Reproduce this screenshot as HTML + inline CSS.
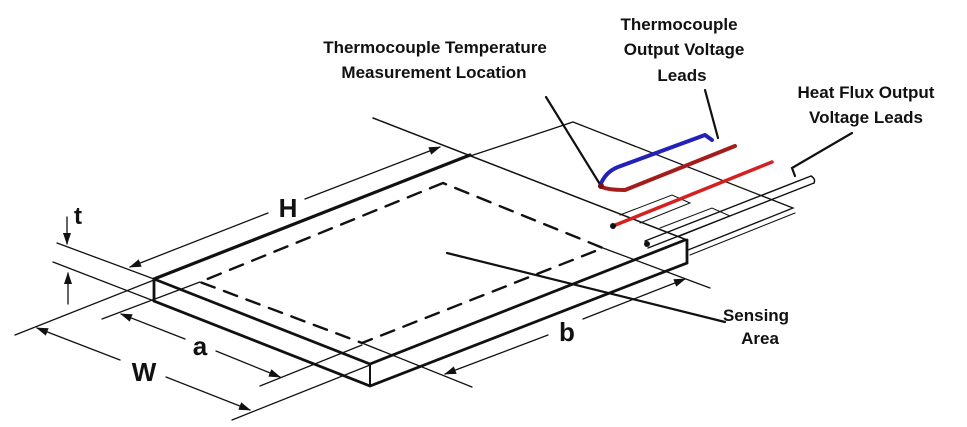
<!DOCTYPE html>
<html><head><meta charset="utf-8"><style>
html,body{margin:0;padding:0;background:#fff}
svg{display:block}
text{font-family:"Liberation Sans",sans-serif;font-weight:bold;fill:#111}
</style></head><body>
<svg width="967" height="427" viewBox="0 0 967 427" xmlns="http://www.w3.org/2000/svg">
<defs>
<marker id="ar" markerWidth="12" markerHeight="8" refX="11" refY="4" orient="auto" markerUnits="userSpaceOnUse">
<path d="M0,0 L12,4 L0,8 Z" fill="#111"/></marker>
</defs>
<g stroke="#111" fill="none" stroke-linecap="round">
<path d="M440,166 L573,122 L793,208 L688,250" stroke-width="1.3"/>
<path d="M690,255 L795,213" stroke-width="1.1"/>
<path d="M620,215 L672,195 L690,203 L640,223" stroke-width="1"/>
<path d="M660,228 L712,208 L730,216 L680,236" stroke-width="1"/>
<path d="M373,118 L687,240" stroke-width="1.5"/>
<path d="M154,279 L470,155" stroke-width="3.2"/>
<path d="M154,279 L370,364 L685,240" stroke-width="2.8"/>
<path d="M154,279 L154,301 L370,386 L687,263 L687,240" stroke-width="2.8"/>
<path d="M370,364 L370,386" stroke-width="2"/>
<path d="M443,183 L200,282 L362,343 L603,248 L443,183" stroke-width="2.4" stroke-dasharray="14,10"/>
<path d="M57,243 L154,279" stroke-width="1.3"/>
<path d="M53,262 L154,301" stroke-width="1.3"/>
<path d="M15,335 L154,280" stroke-width="1.3"/>
<path d="M232,420 L370,365" stroke-width="1.3"/>
<path d="M102,319 L200,282" stroke-width="1.3"/>
<path d="M260,386 L362,345" stroke-width="1.3"/>
<path d="M362,343 L472,387" stroke-width="1.3"/>
<path d="M603,248 L710,288" stroke-width="1.3"/>
<path d="M268,213 L130,267" stroke-width="1.3" marker-end="url(#ar)"/>
<path d="M305,199 L440,147" stroke-width="1.3" marker-end="url(#ar)"/>
<path d="M67,217 L67,244" stroke-width="1.3" marker-end="url(#ar)"/>
<path d="M68,304 L68,273" stroke-width="1.3" marker-end="url(#ar)"/>
<path d="M185,339 L121,314" stroke-width="1.3" marker-end="url(#ar)"/>
<path d="M216,351 L280,377" stroke-width="1.3" marker-end="url(#ar)"/>
<path d="M120,360 L37,328" stroke-width="1.3" marker-end="url(#ar)"/>
<path d="M166,377 L250,410" stroke-width="1.3" marker-end="url(#ar)"/>
<path d="M548,335 L445,374" stroke-width="1.3" marker-end="url(#ar)"/>
<path d="M583,319 L685,279" stroke-width="1.3" marker-end="url(#ar)"/>
<path d="M447,253 L725,322" stroke-width="2.2"/>
<path d="M645,241 L811,176 M648,248 L814,183" stroke-width="1.4"/>
<path d="M811,176 Q816,179 814,183" stroke-width="1.4"/>
<path d="M600,186 Q606,190 625,190 L735,146" stroke="#a31d1d" stroke-width="4"/>
<path d="M600,186 Q605,172 618,167 L705,135 L712,140" stroke="#2222b8" stroke-width="4"/>
<path d="M613,226 L772,162" stroke="#d42020" stroke-width="3.5"/>
<path d="M546,97 L601,186" stroke-width="2.2"/>
<path d="M705,90 L718,138" stroke-width="2.2"/>
<path d="M852,133 L792,168 L795,176" stroke-width="2.2"/>
</g>
<circle cx="613" cy="226" r="3" fill="#111"/>
<circle cx="647" cy="244" r="3" fill="#111"/>
<circle cx="601" cy="186" r="3" fill="#7a1010"/>
<text x="435" y="53" font-size="17" text-anchor="middle">Thermocouple Temperature</text>
<text x="434" y="78" font-size="17" text-anchor="middle">Measurement Location</text>
<text x="679" y="30" font-size="17" text-anchor="middle">Thermocouple</text>
<text x="684" y="55" font-size="17" text-anchor="middle">Output Voltage</text>
<text x="682" y="81" font-size="17" text-anchor="middle">Leads</text>
<text x="866" y="98" font-size="17" text-anchor="middle">Heat Flux Output</text>
<text x="866" y="123" font-size="17" text-anchor="middle">Voltage Leads</text>
<text x="756" y="321" font-size="17" text-anchor="middle">Sensing</text>
<text x="760" y="344" font-size="17" text-anchor="middle">Area</text>
<text x="288" y="217" font-size="26" text-anchor="middle">H</text>
<text x="78" y="224" font-size="24" text-anchor="middle">t</text>
<text x="200" y="355" font-size="26" text-anchor="middle">a</text>
<text x="144" y="381" font-size="26" text-anchor="middle">W</text>
<text x="567" y="341" font-size="26" text-anchor="middle">b</text>
</svg>
</body></html>
